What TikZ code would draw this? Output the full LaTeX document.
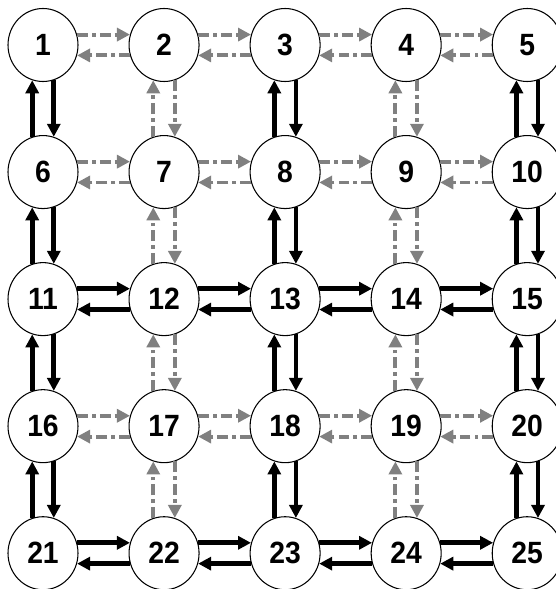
\documentclass[tikz,border=0pt]{standalone}
\usepackage{fontspec}
\setmainfont{Liberation Sans}[FakeStretch=0.92]
\usetikzlibrary{arrows.meta, positioning, shapes.geometric}

\begin{document}
\begin{tikzpicture}[>={Triangle[length=7.4pt,width=7.4pt]}, font=\fontsize{17.5}{19}\selectfont\bfseries, node distance=1.06cm and 1cm]
  \tikzset{
    circ/.style={
      ellipse,
      draw=black,
      line width=0.6pt,
      fill=white,
      inner sep=0pt,
      minimum width=1.4cm,
      minimum height=1.46cm,
      text centered},
    strong/.style={
      ->,
      line width=2.7pt},
    weak/.style={
      ->,
      gray,
      line width=2.2pt,
      dash pattern=on 6.2pt off 2.3pt on 2.1pt off 2.3pt}}

  \useasboundingbox (-0.86,0.9) rectangle (10.24,-10.88);

  \node[circ] (n1) {1};
  \node[circ] (n2) [right=of n1] {2};
  \node[circ] (n3) [right=of n2] {3};
  \node[circ] (n4) [right=of n3] {4};
  \node[circ] (n5) [right=of n4] {5};
  \node[circ] (n6) [below=of n1] {6};
  \node[circ] (n7) [right=of n6] {7};
  \node[circ] (n8) [right=of n7] {8};
  \node[circ] (n9) [right=of n8] {9};
  \node[circ] (n10) [right=of n9] {10};
  \node[circ] (n11) [below=of n6] {11};
  \node[circ] (n12) [right=of n11] {12};
  \node[circ] (n13) [right=of n12] {13};
  \node[circ] (n14) [right=of n13] {14};
  \node[circ] (n15) [right=of n14] {15};
  \node[circ] (n16) [below=of n11] {16};
  \node[circ] (n17) [right=of n16] {17};
  \node[circ] (n18) [right=of n17] {18};
  \node[circ] (n19) [right=of n18] {19};
  \node[circ] (n20) [right=of n19] {20};
  \node[circ] (n21) [below=of n16] {21};
  \node[circ] (n22) [right=of n21] {22};
  \node[circ] (n23) [right=of n22] {23};
  \node[circ] (n24) [right=of n23] {24};
  \node[circ] (n25) [right=of n24] {25};

  % rows
  \path[weak] (n1.17) edge (n2.163) (n2.197) edge (n1.-17)
              (n2.17) edge (n3.163) (n3.197) edge (n2.-17)
              (n3.17) edge (n4.163) (n4.197) edge (n3.-17)
              (n4.17) edge (n5.163) (n5.197) edge (n4.-17);
  \path[weak] (n6.17) edge (n7.163) (n7.197) edge (n6.-17)
              (n7.17) edge (n8.163) (n8.197) edge (n7.-17)
              (n8.17) edge (n9.163) (n9.197) edge (n8.-17)
              (n9.17) edge (n10.163) (n10.197) edge (n9.-17);
  \path[strong] (n11.17) edge (n12.163) (n12.197) edge (n11.-17)
                (n12.17) edge (n13.163) (n13.197) edge (n12.-17)
                (n13.17) edge (n14.163) (n14.197) edge (n13.-17)
                (n14.17) edge (n15.163) (n15.197) edge (n14.-17);
  \path[weak] (n16.17) edge (n17.163) (n17.197) edge (n16.-17)
              (n17.17) edge (n18.163) (n18.197) edge (n17.-17)
              (n18.17) edge (n19.163) (n19.197) edge (n18.-17)
              (n19.17) edge (n20.163) (n20.197) edge (n19.-17);
  \path[strong] (n21.17) edge (n22.163) (n22.197) edge (n21.-17)
                (n22.17) edge (n23.163) (n23.197) edge (n22.-17)
                (n23.17) edge (n24.163) (n24.197) edge (n23.-17)
                (n24.17) edge (n25.163) (n25.197) edge (n24.-17);

  % columns
  \path[strong] (n6.107) edge (n1.253) (n1.287) edge (n6.73)
                (n11.107) edge (n6.253) (n6.287) edge (n11.73)
                (n16.107) edge (n11.253) (n11.287) edge (n16.73)
                (n21.107) edge (n16.253) (n16.287) edge (n21.73);
  \path[weak] (n7.107) edge (n2.253) (n2.287) edge (n7.73)
              (n12.107) edge (n7.253) (n7.287) edge (n12.73)
              (n17.107) edge (n12.253) (n12.287) edge (n17.73)
              (n22.107) edge (n17.253) (n17.287) edge (n22.73);
  \path[strong] (n8.107) edge (n3.253) (n3.287) edge (n8.73)
                (n13.107) edge (n8.253) (n8.287) edge (n13.73)
                (n18.107) edge (n13.253) (n13.287) edge (n18.73)
                (n23.107) edge (n18.253) (n18.287) edge (n23.73);
  \path[weak] (n9.107) edge (n4.253) (n4.287) edge (n9.73)
              (n14.107) edge (n9.253) (n9.287) edge (n14.73)
              (n19.107) edge (n14.253) (n14.287) edge (n19.73)
              (n24.107) edge (n19.253) (n19.287) edge (n24.73);
  \path[strong] (n10.107) edge (n5.253) (n5.287) edge (n10.73)
                (n15.107) edge (n10.253) (n10.287) edge (n15.73)
                (n20.107) edge (n15.253) (n15.287) edge (n20.73)
                (n25.107) edge (n20.253) (n20.287) edge (n25.73);

\end{tikzpicture}
\end{document}
